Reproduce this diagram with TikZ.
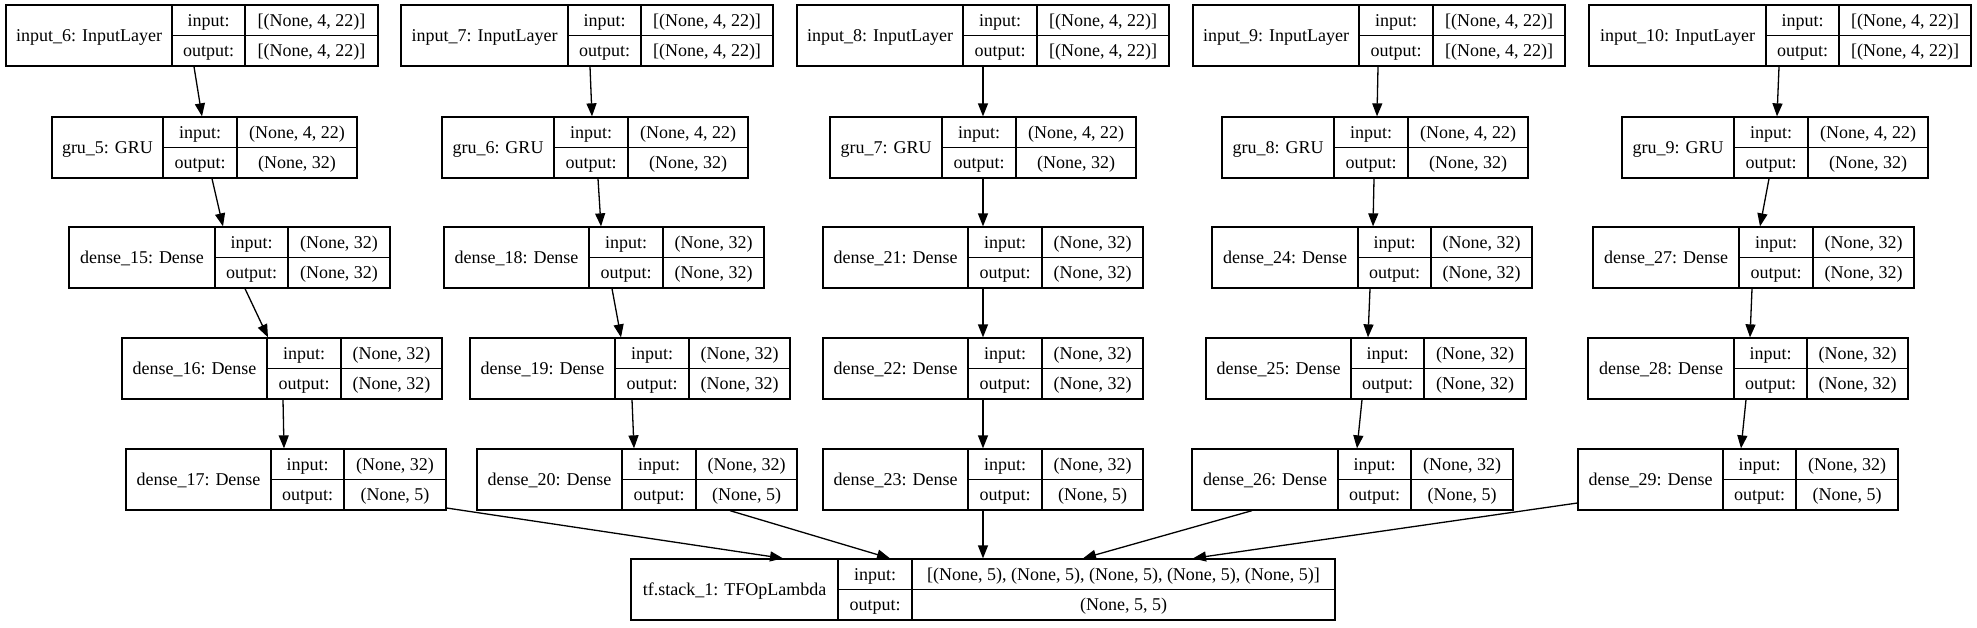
\documentclass[tikz,border=0pt]{standalone}
\usepackage{fontspec}
\setmainfont{Liberation Serif}
\usetikzlibrary{arrows.meta,fit}
\tikzset{
  rec/.style={draw, line width=1.3pt, inner sep=0pt},
  cell/.style={line width=1.3pt},
  txt/.style={inner sep=0pt, font=\fontsize{18}{20}\selectfont, text height=14pt, text depth=2pt, anchor=center},
  arr/.style={line width=1.3pt, -{Triangle[length=13pt,width=10pt]}},
}
\newcommand\recbox[9]{%
  \node[rec, fit={(#2,#3)(#4,#3+61)}] (#1) {};
  \draw[cell] (#5,#3) -- (#5,#3+61) (#6,#3) -- (#6,#3+61) (#5,#3+30.5) -- (#4,#3+30.5);
  \node[txt] (#1-l) at ({(#2+#5)/2},#3+30.5) {#7};
  \node[txt] (#1-ik) at ({(#5+#6)/2},#3+15.25) {input:};
  \node[txt] (#1-ok) at ({(#5+#6)/2},#3+45.75) {output:};
  \node[txt] (#1-iv) at ({(#6+#4)/2},#3+15.25) {#8};
  \node[txt] (#1-ov) at ({(#6+#4)/2},#3+45.75) {#9};
}
\begin{document}
\begin{tikzpicture}[x=1pt,y=-1pt]
\useasboundingbox[fill=white] (0,0) rectangle (1977,627);
% row 1
\recbox{in6}{6}{5}{378}{172}{245}{input\_6: InputLayer}{[(None, 4, 22)]}{[(None, 4, 22)]}
\recbox{in7}{401}{5}{773}{568}{641}{input\_7: InputLayer}{[(None, 4, 22)]}{[(None, 4, 22)]}
\recbox{in8}{797}{5}{1169}{963}{1037}{input\_8: InputLayer}{[(None, 4, 22)]}{[(None, 4, 22)]}
\recbox{in9}{1193}{5}{1565}{1359}{1433}{input\_9: InputLayer}{[(None, 4, 22)]}{[(None, 4, 22)]}
\recbox{in10}{1589}{5}{1971}{1766}{1839}{input\_10: InputLayer}{[(None, 4, 22)]}{[(None, 4, 22)]}
% row 2
\recbox{g5}{52}{117}{357}{163}{237}{gru\_5: GRU}{(None, 4, 22)}{(None, 32)}
\recbox{g6}{442}{117}{748}{554}{628}{gru\_6: GRU}{(None, 4, 22)}{(None, 32)}
\recbox{g7}{830}{117}{1136}{942}{1016}{gru\_7: GRU}{(None, 4, 22)}{(None, 32)}
\recbox{g8}{1222}{117}{1528}{1334}{1408}{gru\_8: GRU}{(None, 4, 22)}{(None, 32)}
\recbox{g9}{1622}{117}{1928}{1734}{1808}{gru\_9: GRU}{(None, 4, 22)}{(None, 32)}
% row 3
\recbox{d15}{69}{227}{390}{215}{288}{dense\_15: Dense}{(None, 32)}{(None, 32)}
\recbox{d18}{444}{227}{764}{589}{663}{dense\_18: Dense}{(None, 32)}{(None, 32)}
\recbox{d21}{823}{227}{1143}{968}{1042}{dense\_21: Dense}{(None, 32)}{(None, 32)}
\recbox{d24}{1212}{227}{1532}{1358}{1431}{dense\_24: Dense}{(None, 32)}{(None, 32)}
\recbox{d27}{1593}{227}{1914}{1739}{1813}{dense\_27: Dense}{(None, 32)}{(None, 32)}
% row 4
\recbox{d16}{122}{338}{442}{267}{341}{dense\_16: Dense}{(None, 32)}{(None, 32)}
\recbox{d19}{470}{338}{790}{615}{689}{dense\_19: Dense}{(None, 32)}{(None, 32)}
\recbox{d22}{823}{338}{1143}{968}{1042}{dense\_22: Dense}{(None, 32)}{(None, 32)}
\recbox{d25}{1206}{338}{1526}{1351}{1424}{dense\_25: Dense}{(None, 32)}{(None, 32)}
\recbox{d28}{1588}{338}{1908}{1734}{1807}{dense\_28: Dense}{(None, 32)}{(None, 32)}
% row 5
\recbox{d17}{126}{449}{446}{271}{344}{dense\_17: Dense}{(None, 32)}{(None, 5)}
\recbox{d20}{477}{449}{797}{622}{696}{dense\_20: Dense}{(None, 32)}{(None, 5)}
\recbox{d23}{823}{449}{1143}{968}{1042}{dense\_23: Dense}{(None, 32)}{(None, 5)}
\recbox{d26}{1192}{449}{1513}{1338}{1411}{dense\_26: Dense}{(None, 32)}{(None, 5)}
\recbox{d29}{1578}{449}{1898}{1723}{1796}{dense\_29: Dense}{(None, 32)}{(None, 5)}
% row 6
\recbox{ts}{631}{559}{1335}{838}{912}{tf.stack\_1: TFOpLambda}{[(None, 5), (None, 5), (None, 5), (None, 5), (None, 5)]}{(None, 5, 5)}
% edges column 1
\draw[arr] (in6.south -| 194,0) -- (g5.north -| 202,0);
\draw[arr] (g5.south -| 212,0) -- (d15.north -| 223,0);
\draw[arr] (d15.south -| 245,0) -- (d16.north -| 268,0);
\draw[arr] (d16.south -| 283,0) -- (d17.north -| 284,0);
% column 2
\draw[arr] (in7.south -| 590,0) -- (g6.north -| 592,0);
\draw[arr] (g6.south -| 598,0) -- (d18.north -| 601,0);
\draw[arr] (d18.south -| 612,0) -- (d19.north -| 621,0);
\draw[arr] (d19.south -| 632,0) -- (d20.north -| 634,0);
% column 3
\draw[arr] (in8.south -| 983,0) -- (g7.north -| 983,0);
\draw[arr] (g7.south -| 983,0) -- (d21.north -| 983,0);
\draw[arr] (d21.south -| 983,0) -- (d22.north -| 983,0);
\draw[arr] (d22.south -| 983,0) -- (d23.north -| 983,0);
% column 4
\draw[arr] (in9.south -| 1378,0) -- (g8.north -| 1377,0);
\draw[arr] (g8.south -| 1374,0) -- (d24.north -| 1373,0);
\draw[arr] (d24.south -| 1370,0) -- (d25.north -| 1368,0);
\draw[arr] (d25.south -| 1362,0) -- (d26.north -| 1357,0);
% column 5
\draw[arr] (in10.south -| 1779,0) -- (g9.north -| 1777,0);
\draw[arr] (g9.south -| 1769,0) -- (d27.north -| 1760,0);
\draw[arr] (d27.south -| 1752,0) -- (d28.north -| 1750,0);
\draw[arr] (d28.south -| 1746,0) -- (d29.north -| 1741,0);
% into stack
\draw[arr] (d17.east |- 0,508) -- (ts.north -| 783,0);
\draw[arr] (d20.south -| 730,0) -- (ts.north -| 890,0);
\draw[arr] (d23.south -| 983,0) -- (ts.north -| 983,0);
\draw[arr] (d26.south -| 1252,0) -- (ts.north -| 1083,0);
\draw[arr] (d29.west |- 0,503) -- (ts.north -| 1193,0);
\end{tikzpicture}
\end{document}
